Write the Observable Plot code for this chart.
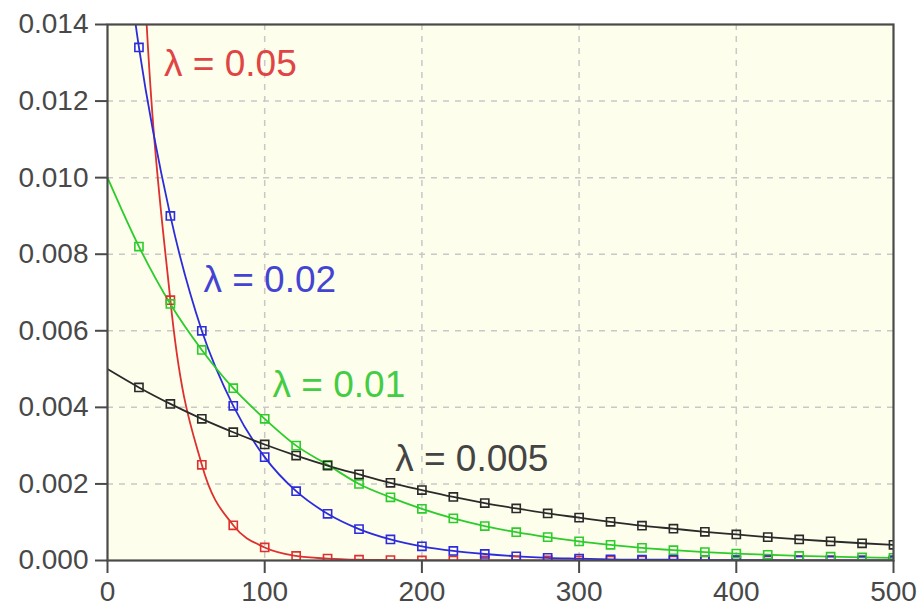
<!DOCTYPE html>
<html>
<head>
<meta charset="utf-8">
<script src="https://cdn.jsdelivr.net/npm/d3@7"></script>
<script src="https://cdn.jsdelivr.net/npm/@observablehq/plot@0.6"></script>
<style>
  html, body { margin: 0; padding: 0; background: #ffffff; }
  #chart svg { display: block; }
</style>
</head>
<body>
<div id="chart"></div>
<script>
const xs = [0,20,40,60,80,100,120,140,160,180,200,220,240,260,280,300,320,340,360,380,400,420,440,460,480,500];

const red   = [0.05,0.0184,0.0068,0.0025,0.00092,0.00034,0.00012,0.00005,0.00002,0.00001,0,0,0,0,0,0,0,0,0,0,0,0,0,0,0,0];
const blue  = [0.02,0.0134,0.009,0.006,0.00404,0.0027,0.00181,0.00122,0.00082,0.00055,0.00037,0.00025,0.00017,0.00011,0.00007,0.00005,0.00003,0.00002,0.00002,0.00001,0.00001,0.00001,0,0,0,0];
const green = [0.01,0.0082,0.0067,0.0055,0.0045,0.0037,0.003,0.0025,0.002,0.00165,0.00135,0.0011,0.0009,0.00074,0.00061,0.0005,0.00041,0.00033,0.00027,0.00022,0.00018,0.00015,0.00012,0.0001,0.00008,0.00007];
const black = [0.005,0.00452,0.00409,0.0037,0.00335,0.00303,0.00274,0.00248,0.00225,0.00203,0.00184,0.00166,0.0015,0.00136,0.00123,0.00112,0.00101,0.00091,0.00083,0.00075,0.00068,0.00061,0.00055,0.0005,0.00045,0.00041];

const seriesNames = ["λ = 0.05", "λ = 0.02", "λ = 0.01", "λ = 0.005"];
const seriesValues = [red, blue, green, black];
const lineColors = ["#dd3030", "#2c2cdc", "#2ccc2c", "#2a2a2a"];
const labelColors = ["#e04444", "#4444d4", "#44cc44", "#444444"];

// label anchor positions (data coordinates)
const labelX = [36, 61, 105, 183];
const labelY = [0.01265, 0.00701, 0.00426, 0.00235];

const xTicks = [0,100,200,300,400,500];
const yTicks = [0,0.002,0.004,0.006,0.008,0.010,0.012,0.014];

const rows = [];
seriesValues.forEach((vals, s) => vals.forEach((v, i) => rows.push({series: seriesNames[s], x: xs[i], y: v})));
const markerRows = rows.filter(d => d.x > 0);
const labels = seriesNames.map((n, i) => ({series: n, x: labelX[i], y: labelY[i]}));

const colorScale = {domain: seriesNames, range: lineColors};

const chart = Plot.plot({
  width: 919,
  height: 606,
  marginLeft: 107,
  marginRight: 26,
  marginTop: 24,
  marginBottom: 46,
  style: {fontFamily: "Arial, 'Liberation Sans', sans-serif", background: "#ffffff"},
  x: {domain: [0, 500]},
  y: {domain: [0, 0.014]},
  color: colorScale,
  marks: [
    Plot.frame({fill: "#fefeec", stroke: null}),
    Plot.ruleX(xTicks.slice(1, -1), {stroke: "#c8c8c8", strokeWidth: 1.5, strokeDasharray: "6,6"}),
    Plot.ruleY(yTicks.slice(1, -1), {stroke: "#c8c8c8", strokeWidth: 1.5, strokeDasharray: "6,6"}),
    Plot.line(rows, {x: "x", y: "y", z: "series", stroke: "series", strokeWidth: 1.8, curve: "monotone-x", clip: true}),
    Plot.dot(markerRows, {x: "x", y: "y", stroke: "series", symbol: "square", r: 4.6, strokeWidth: 1.6, fill: "none", clip: true}),
    Plot.text(labels, {x: "x", y: "y", text: "series", fill: (d, i) => labelColors[i], textAnchor: "start", lineAnchor: "bottom", fontSize: 37}),
    Plot.axisX({ticks: xTicks, tickSize: 13, tickPadding: 8, tickFormat: d3.format("d"), fontSize: 28, stroke: "#4a4a4a", strokeWidth: 2, color: "#484848", label: null}),
    Plot.axisY({ticks: yTicks, tickSize: 12, tickPadding: 7, tickFormat: d3.format(".3f"), fontSize: 28, stroke: "#4a4a4a", strokeWidth: 2, color: "#484848", label: null}),
    Plot.frame({stroke: "#4a4a4a", strokeWidth: 2.2})
  ]
});
document.getElementById("chart").appendChild(chart);
</script>
</body>
</html>
